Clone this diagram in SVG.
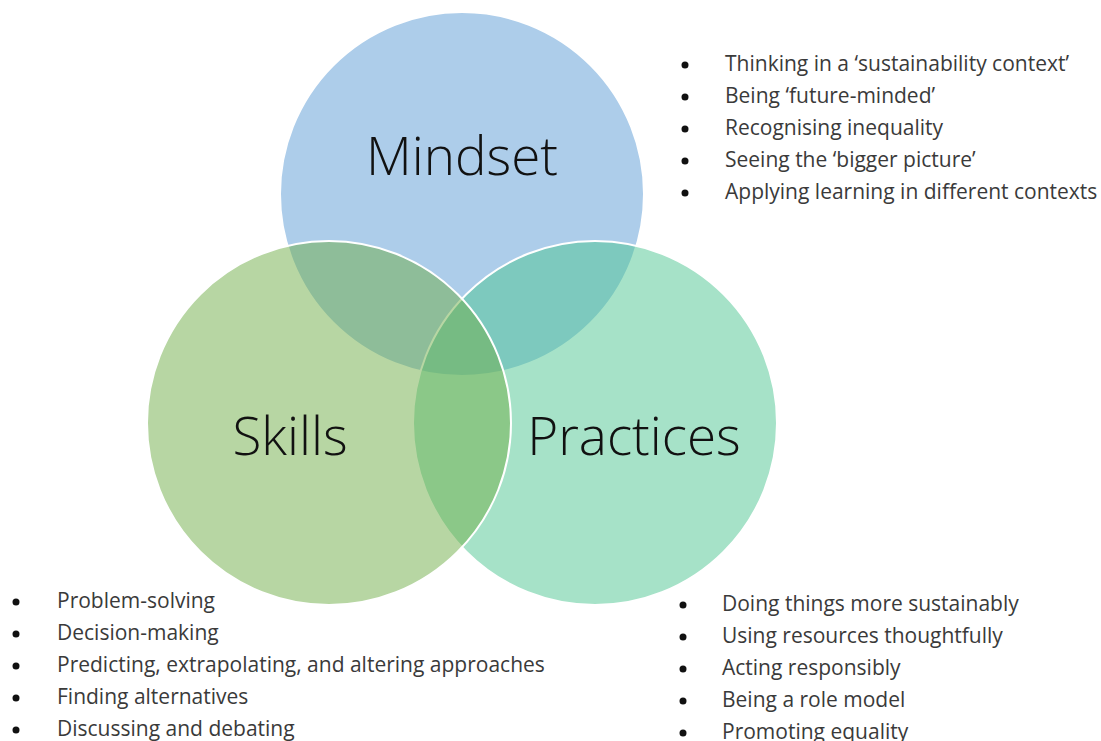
<svg xmlns="http://www.w3.org/2000/svg" width="1101" height="741" viewBox="0 0 1101 741">
<style>
.c{stroke:#ffffff;stroke-width:2;fill-opacity:0.5}
.lbl{font-family:"Open Sans","Liberation Sans",sans-serif;font-weight:300;font-size:53px;fill:#111111;text-anchor:middle}
.it{font-family:"Open Sans","Liberation Sans",sans-serif;font-weight:400;font-size:21px;fill:#3a3a3a}
.b{fill:#111111}
</style>
<rect width="1101" height="741" fill="#ffffff"/>
<g id="mindset">
<circle class="c" cx="462" cy="194" r="182" fill="#5B9BD5"/>
</g>
<g id="practices">
<circle class="c" cx="595" cy="423" r="182" fill="#4DC591"/>
</g>
<g id="skills">
<circle class="c" cx="329" cy="423" r="182" fill="#70AD47"/>
</g>
<g id="labels">
<text class="lbl" x="462" y="175">Mindset</text>
<text class="lbl" x="290" y="455">Skills</text>
<text class="lbl" x="634" y="455">Practices</text>
</g>
<g id="mindset-list">
<circle class="b" cx="685" cy="65" r="3.5"/><text class="it" x="725" y="71">Thinking in a ‘sustainability context’</text>
<circle class="b" cx="685" cy="97" r="3.5"/><text class="it" x="725" y="103">Being ‘future-minded’</text>
<circle class="b" cx="685" cy="129" r="3.5"/><text class="it" x="725" y="135">Recognising inequality</text>
<circle class="b" cx="685" cy="161" r="3.5"/><text class="it" x="725" y="167">Seeing the ‘bigger picture’</text>
<circle class="b" cx="685" cy="193" r="3.5"/><text class="it" x="725" y="199">Applying learning in different contexts</text>
</g>
<g id="skills-list">
<circle class="b" cx="16" cy="602" r="3.5"/><text class="it" x="57" y="608">Problem-solving</text>
<circle class="b" cx="16" cy="634" r="3.5"/><text class="it" x="57" y="640">Decision-making</text>
<circle class="b" cx="16" cy="666" r="3.5"/><text class="it" x="57" y="672">Predicting, extrapolating, and altering approaches</text>
<circle class="b" cx="16" cy="698" r="3.5"/><text class="it" x="57" y="704">Finding alternatives</text>
<circle class="b" cx="16" cy="730" r="3.5"/><text class="it" x="57" y="736">Discussing and debating</text>
</g>
<g id="practices-list">
<circle class="b" cx="683" cy="605" r="3.5"/><text class="it" x="722" y="611">Doing things more sustainably</text>
<circle class="b" cx="683" cy="637" r="3.5"/><text class="it" x="722" y="643">Using resources thoughtfully</text>
<circle class="b" cx="683" cy="669" r="3.5"/><text class="it" x="722" y="675">Acting responsibly</text>
<circle class="b" cx="683" cy="701" r="3.5"/><text class="it" x="722" y="707">Being a role model</text>
<circle class="b" cx="683" cy="733" r="3.5"/><text class="it" x="722" y="739">Promoting equality</text>
</g>
</svg>
